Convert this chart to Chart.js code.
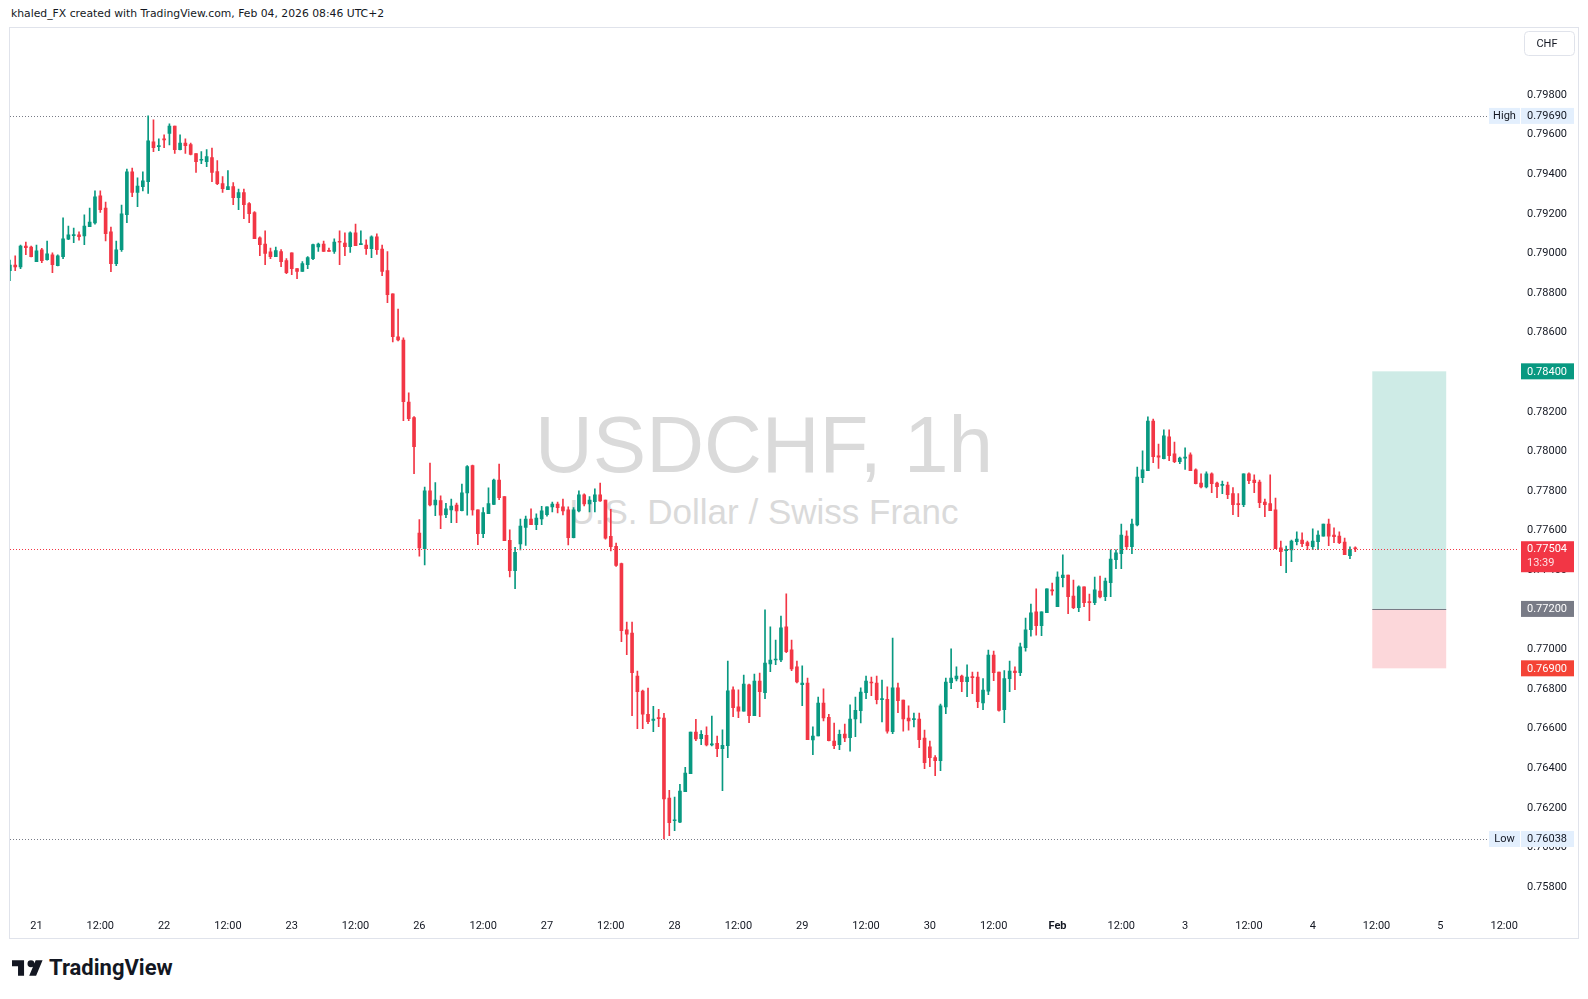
<!DOCTYPE html>
<html>
<head>
<meta charset="utf-8">
<script src="https://cdn.jsdelivr.net/npm/chart.js@4.4.1/dist/chart.umd.min.js"></script>
<style>
  html, body { margin: 0; padding: 0; background: #fff; }
  #wrap { position: relative; width: 1588px; height: 999px; overflow: hidden; font-family: Roboto, "Liberation Sans", Arial, sans-serif; color: #131722; }
  #head { position: absolute; left: 11px; top: 9px; font-size: 10.8px; line-height: 1; white-space: nowrap; font-family: "DejaVu Sans", Verdana, sans-serif; }
  #frame { position: absolute; left: 9px; top: 27px; width: 1570px; height: 912px; border: 1px solid #e0e3eb; box-sizing: border-box; }
  .wm { position: absolute; left: 10px; width: 1508px; text-align: center; color: #dadada; font-family: "Liberation Sans", Arial, sans-serif; line-height: 1; white-space: nowrap; }
  #wm1 { top: 405px; font-size: 80px; }
  #wm2 { top: 494px; font-size: 35px; }
  #logo { position: absolute; left: 12px; top: 958px; height: 20px; display: flex; align-items: center; }
  #logo span { font-weight: bold; font-size: 22px; line-height: 1; margin-left: 6px; }
  canvas { position: absolute; left: 0; top: 0; }
</style>
</head>
<body>
<div id="wrap">
  <div id="head">khaled_FX created with TradingView.com, Feb 04, 2026 08:46 UTC+2</div>
  <div id="frame"></div>
  <div class="wm" id="wm1">USDCHF, 1h</div>
  <div class="wm" id="wm2">U.S. Dollar / Swiss Franc</div>
  <div id="logo">
    <svg width="31" height="16" viewBox="0 4 36 18"><path fill="#131722" d="M14 22H7V11H0V4h14v18zm8-18a4 4 0 1 1 0 8 4 4 0 0 1 0-8zm6 18h-8l7.5-18h8L28 22z"/></svg>
    <span>TradingView</span>
  </div>
  <canvas id="myChart" width="1588" height="999"></canvas>
</div>
<script>
// hourly bars, bar index 0 = Jan 21 00:00 (UTC+2), weekend removed
const firstBar = -5;

const opens = [
  0.78909, 0.78937, 0.78927, 0.79033, 0.79028,
  0.78954, 0.79013, 0.78964, 0.78988, 0.78934, 0.78979, 0.79067, 0.79085, 0.79090, 0.79084, 0.79131, 0.79149,
  0.79286, 0.79225, 0.79104, 0.78944, 0.79015, 0.79191, 0.79407, 0.79303, 0.79333, 0.79358, 0.79559, 0.79535,
  0.79574, 0.79601, 0.79639, 0.79520, 0.79553, 0.79545, 0.79500, 0.79466, 0.79459, 0.79479, 0.79409, 0.79348,
  0.79318, 0.79333, 0.79277, 0.79303, 0.79247, 0.79202, 0.79074, 0.79043, 0.79003, 0.78979, 0.79005, 0.78959,
  0.78998, 0.78919, 0.78904, 0.78939, 0.78969, 0.79028, 0.79043, 0.79010, 0.79005, 0.79055, 0.79048, 0.79030,
  0.79099, 0.79040, 0.79038, 0.79020, 0.79079, 0.79018, 0.78909, 0.78791, 0.78574, 0.78558, 0.78245, 0.78166,
  0.77583, 0.77504, 0.77796, 0.77725, 0.77747, 0.77676, 0.77700, 0.77725, 0.77696, 0.77786, 0.77924, 0.77700,
  0.77580, 0.77681, 0.77728, 0.77851, 0.77767, 0.77547, 0.77393, 0.77528, 0.77611, 0.77654, 0.77626, 0.77654,
  0.77676, 0.77715, 0.77730, 0.77715, 0.77700, 0.77560, 0.77695, 0.77776, 0.77730, 0.77742, 0.77776, 0.77750,
  0.77567, 0.77516, 0.77429, 0.77094, 0.77078, 0.76861, 0.76785, 0.76668, 0.76637, 0.76649, 0.76649, 0.76245,
  0.76130, 0.76123, 0.76277, 0.76368, 0.76578, 0.76545, 0.76562, 0.76513, 0.76521, 0.76494, 0.76509, 0.76791,
  0.76705, 0.76684, 0.76816, 0.76661, 0.76836, 0.76777, 0.76922, 0.76942, 0.76942, 0.77109, 0.76993, 0.76907,
  0.76818, 0.76826, 0.76538, 0.76558, 0.76725, 0.76652, 0.76533, 0.76514, 0.76568, 0.76550, 0.76644, 0.76686,
  0.76777, 0.76831, 0.76826, 0.76742, 0.76743, 0.76580, 0.76801, 0.76740, 0.76649, 0.76641, 0.76644, 0.76548,
  0.76503, 0.76449, 0.76434, 0.76705, 0.76828, 0.76846, 0.76861, 0.76833, 0.76856, 0.76856, 0.76725, 0.76785,
  0.76967, 0.76881, 0.76691, 0.76848, 0.76886, 0.76878, 0.77004, 0.77095, 0.77185, 0.77116, 0.77181, 0.77296,
  0.77212, 0.77358, 0.77371, 0.77265, 0.77206, 0.77311, 0.77235, 0.77232, 0.77290, 0.77262, 0.77333, 0.77449,
  0.77479, 0.77568, 0.77515, 0.77624, 0.77863, 0.77898, 0.78149, 0.77973, 0.77959, 0.78069, 0.77983, 0.77944,
  0.77961, 0.77978, 0.77902, 0.77836, 0.77816, 0.77882, 0.77836, 0.77824, 0.77826, 0.77782, 0.77730, 0.77727,
  0.77882, 0.77851, 0.77841, 0.77740, 0.77732, 0.77700, 0.77508, 0.77494, 0.77498, 0.77540, 0.77548, 0.77535,
  0.77515, 0.77540, 0.77568, 0.77629, 0.77573, 0.77568, 0.77538, 0.77469, 0.77508
];
const highs = [
  0.78962, 0.78983, 0.79038, 0.79053, 0.79033,
  0.79038, 0.79021, 0.79058, 0.78999, 0.78988, 0.79175, 0.79134, 0.79124, 0.79104, 0.79190, 0.79225, 0.79311,
  0.79311, 0.79255, 0.79129, 0.79058, 0.79240, 0.79422, 0.79427, 0.79377, 0.79407, 0.79690, 0.79670, 0.79574,
  0.79594, 0.79650, 0.79639, 0.79594, 0.79574, 0.79553, 0.79500, 0.79510, 0.79520, 0.79528, 0.79464, 0.79383,
  0.79414, 0.79353, 0.79321, 0.79321, 0.79252, 0.79207, 0.79079, 0.79109, 0.79023, 0.79028, 0.79015, 0.78969,
  0.78998, 0.78919, 0.78954, 0.78979, 0.79043, 0.79048, 0.79058, 0.79023, 0.79069, 0.79109, 0.79099, 0.79104,
  0.79144, 0.79109, 0.79064, 0.79084, 0.79094, 0.79038, 0.79005, 0.78791, 0.78715, 0.78569, 0.78292, 0.78171,
  0.77651, 0.77816, 0.77937, 0.77838, 0.77771, 0.77733, 0.77755, 0.77735, 0.77831, 0.77924, 0.77927, 0.77700,
  0.77712, 0.77811, 0.77856, 0.77932, 0.77767, 0.77599, 0.77511, 0.77654, 0.77669, 0.77705, 0.77680, 0.77718,
  0.77715, 0.77740, 0.77740, 0.77755, 0.77715, 0.77712, 0.77796, 0.77781, 0.77767, 0.77807, 0.77836, 0.77750,
  0.77703, 0.77533, 0.77432, 0.77134, 0.77134, 0.76886, 0.76790, 0.76800, 0.76708, 0.76693, 0.76673, 0.76284,
  0.76250, 0.76314, 0.76400, 0.76578, 0.76642, 0.76585, 0.76604, 0.76659, 0.76558, 0.76589, 0.76937, 0.76806,
  0.76791, 0.76866, 0.76821, 0.76871, 0.76876, 0.77195, 0.77109, 0.77043, 0.77164, 0.77276, 0.77043, 0.76937,
  0.76912, 0.76851, 0.76604, 0.76755, 0.76796, 0.76668, 0.76624, 0.76588, 0.76619, 0.76715, 0.76755, 0.76801,
  0.76861, 0.76856, 0.76861, 0.76841, 0.76806, 0.77053, 0.76826, 0.76740, 0.76710, 0.76674, 0.76674, 0.76588,
  0.76533, 0.76459, 0.76720, 0.76851, 0.76998, 0.76907, 0.76866, 0.76917, 0.76881, 0.76881, 0.76848, 0.76992,
  0.76987, 0.76881, 0.76888, 0.76937, 0.76907, 0.77028, 0.77154, 0.77225, 0.77301, 0.77185, 0.77301, 0.77331,
  0.77387, 0.77473, 0.77371, 0.77346, 0.77316, 0.77311, 0.77275, 0.77361, 0.77366, 0.77356, 0.77498, 0.77498,
  0.77629, 0.77594, 0.77654, 0.77917, 0.77998, 0.78170, 0.78159, 0.78033, 0.78104, 0.78104, 0.78043, 0.77967,
  0.78013, 0.77988, 0.77907, 0.77882, 0.77892, 0.77887, 0.77841, 0.77846, 0.77841, 0.77813, 0.77782, 0.77882,
  0.77887, 0.77877, 0.77851, 0.77755, 0.77877, 0.77760, 0.77543, 0.77518, 0.77548, 0.77589, 0.77584, 0.77543,
  0.77604, 0.77594, 0.77629, 0.77654, 0.77609, 0.77589, 0.77558, 0.77513, 0.77513
];
const lows = [
  0.78858, 0.78909, 0.78919, 0.78989, 0.78978,
  0.78954, 0.78949, 0.78962, 0.78898, 0.78932, 0.78969, 0.79065, 0.79050, 0.79063, 0.79040, 0.79131, 0.79143,
  0.79202, 0.79058, 0.78903, 0.78934, 0.79005, 0.79151, 0.79282, 0.79232, 0.79311, 0.79298, 0.79510, 0.79515,
  0.79530, 0.79543, 0.79500, 0.79518, 0.79500, 0.79493, 0.79404, 0.79449, 0.79434, 0.79358, 0.79343, 0.79303,
  0.79318, 0.79242, 0.79217, 0.79171, 0.79151, 0.79070, 0.78984, 0.78939, 0.78969, 0.78979, 0.78929, 0.78893,
  0.78888, 0.78868, 0.78904, 0.78919, 0.78964, 0.79005, 0.79005, 0.79005, 0.78995, 0.78939, 0.78984, 0.79000,
  0.79035, 0.79040, 0.78990, 0.78974, 0.78990, 0.78883, 0.78747, 0.78548, 0.78553, 0.78151, 0.78151, 0.77883,
  0.77467, 0.77422, 0.77720, 0.77671, 0.77605, 0.77661, 0.77636, 0.77636, 0.77695, 0.77673, 0.77673, 0.77525,
  0.77560, 0.77681, 0.77727, 0.77752, 0.77545, 0.77361, 0.77302, 0.77498, 0.77521, 0.77626, 0.77600, 0.77626,
  0.77669, 0.77690, 0.77685, 0.77675, 0.77523, 0.77558, 0.77690, 0.77720, 0.77690, 0.77690, 0.77743, 0.77552,
  0.77493, 0.77415, 0.77035, 0.76969, 0.76661, 0.76595, 0.76595, 0.76620, 0.76580, 0.76605, 0.76038, 0.76055,
  0.76080, 0.76120, 0.76277, 0.76368, 0.76534, 0.76514, 0.76508, 0.76508, 0.76454, 0.76282, 0.76449, 0.76656,
  0.76651, 0.76684, 0.76626, 0.76661, 0.76656, 0.76747, 0.76883, 0.76919, 0.76934, 0.76979, 0.76888, 0.76826,
  0.76711, 0.76540, 0.76464, 0.76558, 0.76634, 0.76533, 0.76494, 0.76489, 0.76530, 0.76482, 0.76555, 0.76624,
  0.76747, 0.76762, 0.76720, 0.76629, 0.76573, 0.76570, 0.76676, 0.76583, 0.76588, 0.76604, 0.76499, 0.76393,
  0.76403, 0.76358, 0.76383, 0.76671, 0.76797, 0.76836, 0.76782, 0.76757, 0.76772, 0.76701, 0.76691, 0.76767,
  0.76838, 0.76684, 0.76625, 0.76782, 0.76792, 0.76863, 0.76987, 0.77063, 0.77068, 0.77065, 0.77181, 0.77270,
  0.77212, 0.77311, 0.77176, 0.77201, 0.77186, 0.77211, 0.77141, 0.77221, 0.77255, 0.77242, 0.77262, 0.77403,
  0.77403, 0.77499, 0.77479, 0.77619, 0.77838, 0.77898, 0.77939, 0.77909, 0.77957, 0.77949, 0.77939, 0.77934,
  0.77904, 0.77898, 0.77831, 0.77811, 0.77811, 0.77787, 0.77762, 0.77782, 0.77757, 0.77676, 0.77666, 0.77717,
  0.77833, 0.77787, 0.77712, 0.77666, 0.77696, 0.77504, 0.77418, 0.77383, 0.77439, 0.77523, 0.77514, 0.77499,
  0.77499, 0.77499, 0.77568, 0.77519, 0.77535, 0.77530, 0.77474, 0.77454, 0.77489
];
const closes = [
  0.78937, 0.78927, 0.79033, 0.79025, 0.78979,
  0.79008, 0.78959, 0.78993, 0.78939, 0.78983, 0.79069, 0.79089, 0.79089, 0.79080, 0.79134, 0.79154, 0.79281,
  0.79217, 0.79095, 0.78944, 0.79013, 0.79195, 0.79407, 0.79303, 0.79336, 0.79362, 0.79564, 0.79530, 0.79540,
  0.79569, 0.79639, 0.79520, 0.79553, 0.79540, 0.79495, 0.79459, 0.79469, 0.79484, 0.79404, 0.79348, 0.79323,
  0.79333, 0.79277, 0.79303, 0.79242, 0.79196, 0.79070, 0.79040, 0.78995, 0.78979, 0.79010, 0.78954, 0.78898,
  0.78919, 0.78904, 0.78944, 0.78974, 0.79040, 0.79043, 0.79005, 0.79006, 0.79053, 0.79052, 0.79030, 0.79099,
  0.79035, 0.79043, 0.79020, 0.79079, 0.79015, 0.78904, 0.78787, 0.78575, 0.78558, 0.78247, 0.78161, 0.78020,
  0.77508, 0.77796, 0.77725, 0.77750, 0.77673, 0.77705, 0.77720, 0.77695, 0.77786, 0.77919, 0.77700, 0.77580,
  0.77686, 0.77732, 0.77851, 0.77762, 0.77545, 0.77393, 0.77486, 0.77619, 0.77654, 0.77626, 0.77659, 0.77695,
  0.77715, 0.77730, 0.77712, 0.77695, 0.77560, 0.77700, 0.77776, 0.77730, 0.77750, 0.77776, 0.77745, 0.77557,
  0.77515, 0.77420, 0.77090, 0.77072, 0.76878, 0.76782, 0.76668, 0.76630, 0.76644, 0.76646, 0.76241, 0.76120,
  0.76135, 0.76280, 0.76371, 0.76578, 0.76544, 0.76567, 0.76513, 0.76518, 0.76494, 0.76511, 0.76786, 0.76701,
  0.76684, 0.76821, 0.76661, 0.76836, 0.76782, 0.76927, 0.76942, 0.76947, 0.77104, 0.76984, 0.76897, 0.76831,
  0.76826, 0.76540, 0.76558, 0.76725, 0.76649, 0.76535, 0.76509, 0.76567, 0.76548, 0.76644, 0.76688, 0.76780,
  0.76836, 0.76826, 0.76742, 0.76747, 0.76583, 0.76801, 0.76737, 0.76644, 0.76634, 0.76644, 0.76540, 0.76423,
  0.76449, 0.76434, 0.76710, 0.76831, 0.76851, 0.76861, 0.76833, 0.76856, 0.76853, 0.76732, 0.76790, 0.76967,
  0.76878, 0.76688, 0.76848, 0.76886, 0.76878, 0.77008, 0.77094, 0.77180, 0.77116, 0.77185, 0.77301, 0.77291,
  0.77361, 0.77371, 0.77262, 0.77206, 0.77311, 0.77232, 0.77232, 0.77297, 0.77260, 0.77341, 0.77452, 0.77483,
  0.77573, 0.77515, 0.77629, 0.77866, 0.77902, 0.78149, 0.77969, 0.77967, 0.78074, 0.77974, 0.77944, 0.77962,
  0.77967, 0.77898, 0.77833, 0.77816, 0.77882, 0.77833, 0.77818, 0.77828, 0.77777, 0.77727, 0.77727, 0.77882,
  0.77848, 0.77838, 0.77737, 0.77727, 0.77696, 0.77504, 0.77489, 0.77501, 0.77543, 0.77553, 0.77530, 0.77520,
  0.77543, 0.77573, 0.77629, 0.77568, 0.77565, 0.77535, 0.77474, 0.77499, 0.77504
];

// time axis: one label every 12 bars starting at bar 0
const timeLabels = ['21', '12:00', '22', '12:00', '23', '12:00', '26', '12:00', '27', '12:00', '28', '12:00',
  '29', '12:00', '30', '12:00', 'Feb', '12:00', '3', '12:00', '4', '12:00', '5', '12:00'];

const highPrice = 0.79690;
const lowPrice = 0.76038;
const lastPrice = 0.77504;
const countdown = '13:39';

// long position tool
const targetPrice = 0.78400;
const entryPrice = 0.77200;
const stopPrice = 0.76900;
const toolStartBar = 251.2;
const toolEndBar = 265.1;

const UP = '#089981';
const DOWN = '#f23645';
const FONT = 'Roboto, "Liberation Sans", Arial, sans-serif';

const ctx = document.getElementById('myChart');
const candleColors = closes.map((c, i) => c >= opens[i] ? UP : DOWN);

function tag(c, x, yc, w, h, bg, fg, text) {
    c.fillStyle = bg;
    c.fillRect(x, yc - h / 2, w, h);
    c.fillStyle = fg;
    c.textBaseline = 'middle';
    c.textAlign = 'left';
    c.fillText(text, x + 6, yc + 0.5);
}

const overlay = {
    id: 'overlay',
    beforeDatasetsDraw(chart) {
        const c = chart.ctx;
        const a = chart.chartArea;
        const x = chart.scales.x;
        const y = chart.scales.y;
        c.save();

        // position tool
        const x0 = x.getPixelForValue(toolStartBar);
        const x1 = x.getPixelForValue(toolEndBar);
        c.fillStyle = 'rgba(8,153,129,0.2)';
        c.fillRect(x0, y.getPixelForValue(targetPrice), x1 - x0, y.getPixelForValue(entryPrice) - y.getPixelForValue(targetPrice));
        c.fillStyle = 'rgba(242,54,69,0.2)';
        c.fillRect(x0, y.getPixelForValue(entryPrice), x1 - x0, y.getPixelForValue(stopPrice) - y.getPixelForValue(entryPrice));
        c.strokeStyle = '#787b86';
        c.lineWidth = 1;
        c.beginPath();
        const ye = Math.round(y.getPixelForValue(entryPrice)) + 0.5;
        c.moveTo(x0, ye);
        c.lineTo(x1, ye);
        c.stroke();

        // high / low dotted lines
        c.setLineDash([1, 2]);
        c.strokeStyle = '#787b86';
        [highPrice, lowPrice].forEach(p => {
            const yy = Math.round(y.getPixelForValue(p)) + 0.5;
            c.beginPath();
            c.moveTo(a.left, yy);
            c.lineTo(a.right - 31, yy);
            c.stroke();
        });
        c.restore();
    },
    afterDatasetsDraw(chart) {
        const c = chart.ctx;
        const a = chart.chartArea;
        const y = chart.scales.y;
        c.save();
        c.setLineDash([1, 2]);
        c.strokeStyle = DOWN;
        c.lineWidth = 1;
        const yy = Math.round(y.getPixelForValue(lastPrice)) + 0.5;
        c.beginPath();
        c.moveTo(a.left, yy);
        c.lineTo(a.right, yy);
        c.stroke();
        c.restore();
    },
    afterDraw(chart) {
        const c = chart.ctx;
        const a = chart.chartArea;
        const y = chart.scales.y;
        const lx = a.right + 3;
        const w = 53;
        c.save();
        c.font = '11px ' + FONT;

        // High / Low
        [['High', highPrice], ['Low', lowPrice]].forEach(([name, p]) => {
            const yc = y.getPixelForValue(p);
            c.fillStyle = '#e3effd';
            c.fillRect(a.right - 29, yc - 8, 31, 16);
            c.fillStyle = '#131722';
            c.textAlign = 'center';
            c.textBaseline = 'middle';
            c.fillText(name, a.right - 13.5, yc + 0.5);
            tag(c, lx, yc, w, 16, '#e3effd', '#131722', p.toFixed(5));
        });

        tag(c, lx, y.getPixelForValue(targetPrice), w, 16, UP, '#ffffff', targetPrice.toFixed(5));
        tag(c, lx, y.getPixelForValue(entryPrice), w, 16, '#787b86', '#ffffff', entryPrice.toFixed(5));
        tag(c, lx, y.getPixelForValue(stopPrice), w, 16, '#f44336', '#ffffff', stopPrice.toFixed(5));

        // last price with countdown
        const yl = y.getPixelForValue(lastPrice);
        c.fillStyle = DOWN;
        c.fillRect(lx, yl - 7.5, w, 31);
        c.fillStyle = '#ffffff';
        c.textAlign = 'left';
        c.textBaseline = 'middle';
        c.fillText(lastPrice.toFixed(5), lx + 6, yl + 0.5);
        c.fillStyle = 'rgba(255,255,255,0.85)';
        c.fillText(countdown, lx + 6, yl + 15);

        // currency box
        c.fillStyle = '#ffffff';
        c.strokeStyle = '#e0e3eb';
        c.lineWidth = 1;
        c.beginPath();
        c.roundRect(lx + 3.5, 31.5, 50, 24, 4);
        c.fill();
        c.stroke();
        c.fillStyle = '#131722';
        c.textAlign = 'center';
        c.fillText('CHF', lx + 26, 44);
        c.restore();
    }
};

const myChart = new Chart(ctx, {
    type: 'bar',
    data: {
        datasets: [{
            label: 'bodies',
            data: opens.map((o, i) => ({ x: firstBar + i, y: [o, closes[i]] })),
            backgroundColor: candleColors,
            barThickness: 3,
            minBarLength: 1,
            grouped: false,
            borderWidth: 0
        }, {
            label: 'wicks',
            data: lows.map((l, i) => ({ x: firstBar + i, y: [l, highs[i]] })),
            backgroundColor: candleColors,
            barThickness: 1,
            minBarLength: 1,
            grouped: false,
            borderWidth: 0
        }]
    },
    options: {
        responsive: false,
        animation: false,
        layout: { padding: { left: 10, right: 10, top: 28, bottom: 61.5 } },
        plugins: { legend: { display: false }, tooltip: { enabled: false } },
        scales: {
            x: {
                type: 'linear',
                offset: false,
                min: -4.98,
                max: 278.6,
                grid: { display: false },
                border: { display: false },
                afterFit: s => { s.height = 30; },
                afterBuildTicks: axis => {
                    axis.ticks = timeLabels.map((t, i) => ({ value: i * 12 }));
                },
                ticks: {
                    autoSkip: false,
                    maxRotation: 0,
                    padding: 4,
                    color: '#131722',
                    font: c => ({ size: 11, family: FONT, weight: (c.tick && c.tick.value === 192) ? 'bold' : 'normal' }),
                    callback: v => timeLabels[Math.round(v / 12)]
                }
            },
            y: {
                position: 'right',
                min: 0.75692,
                max: 0.80134,
                grid: { display: false, drawTicks: false },
                border: { display: false },
                afterFit: s => { s.width = 60; },
                ticks: {
                    stepSize: 0.002,
                    includeBounds: false,
                    padding: 9,
                    labelOffset: 1,
                    color: '#131722',
                    font: { size: 11, family: FONT },
                    callback: v => v > 0.799 ? '' : v.toFixed(5)
                }
            }
        }
    },
    plugins: [overlay]
});
</script>
</body>
</html>
